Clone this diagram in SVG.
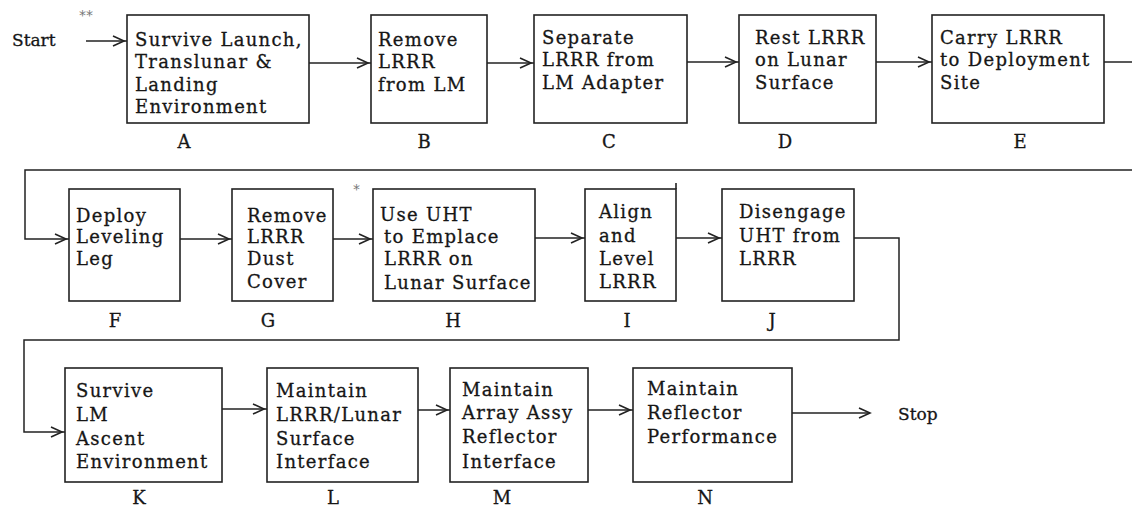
<svg xmlns="http://www.w3.org/2000/svg" width="1132" height="508" viewBox="0 0 1132 508">
<style>
.box{fill:none;stroke:#222;stroke-width:1.6}
.t{font-family:"DejaVu Serif","Liberation Serif",serif;font-size:18px;fill:#161616;stroke:#161616;stroke-width:0.3px;letter-spacing:1.3px}
.lbl{font-family:"DejaVu Serif","Liberation Serif",serif;font-size:18px;fill:#161616;stroke:#161616;stroke-width:0.3px;text-anchor:middle}
.term{font-family:"DejaVu Serif","Liberation Serif",serif;font-size:17px;fill:#161616;stroke:#161616;stroke-width:0.3px}
.ast{font-family:"DejaVu Sans","Liberation Sans",sans-serif;font-size:14px;fill:#777}
.c{fill:none;stroke:#222;stroke-width:1.5}
.a{marker-end:url(#ah)}
</style>
<defs>
<marker id="ah" markerUnits="userSpaceOnUse" markerWidth="16" markerHeight="12" viewBox="0 0 16 12" refX="16" refY="6" orient="auto"><path d="M2,1 L13,6 L2,11" fill="none" stroke="#222" stroke-width="1.6"/></marker>
<marker id="ahEnd" markerUnits="userSpaceOnUse" markerWidth="16" markerHeight="12" viewBox="0 0 16 12" refX="13" refY="6" orient="auto"><path d="M2,1 L13,6 L2,11" fill="none" stroke="#222" stroke-width="1.6"/></marker>
</defs>
<rect x="0" y="0" width="1132" height="508" fill="#fff"/>

<g id="start"><text class="term" x="12" y="46">Start</text><text class="ast" x="79" y="20">**</text></g>
<g id="stop"><text class="term" x="898" y="420">Stop</text></g>

<g id="connectors">
<path class="c a" d="M86,41 H127"/>
<path class="c a" d="M309,63 H371"/>
<path class="c a" d="M487,63 H534"/>
<path class="c a" d="M687,62 H739"/>
<path class="c a" d="M876,62 H932"/>
<path class="c" d="M1104,62 H1132"/>
<path class="c a" d="M1132,170 H25 V239 H69"/>
<path class="c a" d="M180,239 H232"/>
<path class="c a" d="M333,239 H373"/>
<path class="c a" d="M535,238 H585"/>
<path class="c a" d="M676,238 H722"/>
<path class="c a" d="M854,238 H899 V340 H24 V432 H65"/>
<path class="c a" d="M222,409 H267"/>
<path class="c a" d="M418,410 H450"/>
<path class="c a" d="M588,410 H633"/>
<path class="c" style="marker-end:url(#ahEnd)" d="M792,413 H870"/>
</g>

<g id="A"><rect class="box" x="127" y="15" width="182" height="108"/>
<text class="t" x="135" y="46">Survive Launch,</text><text class="t" x="135" y="68">Translunar &amp;</text><text class="t" x="135" y="91">Landing</text><text class="t" x="135" y="113">Environment</text>
<text class="lbl" x="184" y="148">A</text></g>

<g id="B"><rect class="box" x="371" y="15" width="116" height="108"/>
<text class="t" x="378" y="46">Remove</text><text class="t" x="378" y="68">LRRR</text><text class="t" x="378" y="91">from LM</text>
<text class="lbl" x="424" y="148">B</text></g>

<g id="C"><rect class="box" x="534" y="15" width="153" height="108"/>
<text class="t" x="542" y="44">Separate</text><text class="t" x="542" y="66">LRRR from</text><text class="t" x="542" y="89">LM Adapter</text>
<text class="lbl" x="609" y="148">C</text></g>

<g id="D"><rect class="box" x="739" y="15" width="137" height="108"/>
<text class="t" x="755" y="44">Rest LRRR</text><text class="t" x="755" y="66">on Lunar</text><text class="t" x="755" y="89">Surface</text>
<text class="lbl" x="785" y="148">D</text></g>

<g id="E"><rect class="box" x="932" y="15" width="172" height="108"/>
<text class="t" x="940" y="44">Carry LRRR</text><text class="t" x="940" y="66">to Deployment</text><text class="t" x="940" y="89">Site</text>
<text class="lbl" x="1020" y="148">E</text></g>

<g id="F"><rect class="box" x="69" y="189" width="111" height="112"/>
<text class="t" x="76" y="222">Deploy</text><text class="t" x="76" y="243">Leveling</text><text class="t" x="76" y="265">Leg</text>
<text class="lbl" x="115" y="327">F</text></g>

<g id="G"><rect class="box" x="232" y="189" width="101" height="112"/>
<text class="t" x="247" y="222">Remove</text><text class="t" x="247" y="243">LRRR</text><text class="t" x="247" y="265">Dust</text><text class="t" x="247" y="288">Cover</text>
<text class="lbl" x="268" y="327">G</text></g>

<g id="H"><rect class="box" x="373" y="189" width="162" height="112"/>
<text class="ast" x="353" y="194">*</text>
<text class="t" x="380" y="221">Use UHT</text><text class="t" x="384" y="243">to Emplace</text><text class="t" x="384" y="265">LRRR on</text><text class="t" x="384" y="289">Lunar Surface</text>
<text class="lbl" x="453" y="327">H</text></g>

<g id="I"><rect class="box" x="585" y="189" width="91" height="112"/><path class="box" d="M676,183 V189"/>
<text class="t" x="599" y="218">Align</text><text class="t" x="599" y="242">and</text><text class="t" x="599" y="265">Level</text><text class="t" x="599" y="288">LRRR</text>
<text class="lbl" x="627" y="327">I</text></g>

<g id="J"><rect class="box" x="722" y="189" width="132" height="112"/>
<text class="t" x="739" y="218">Disengage</text><text class="t" x="739" y="242">UHT from</text><text class="t" x="739" y="265">LRRR</text>
<text class="lbl" x="772" y="327">J</text></g>

<g id="K"><rect class="box" x="65" y="368" width="157" height="114"/>
<text class="t" x="76" y="397">Survive</text><text class="t" x="76" y="421">LM</text><text class="t" x="76" y="445">Ascent</text><text class="t" x="76" y="468">Environment</text>
<text class="lbl" x="139" y="504">K</text></g>

<g id="L"><rect class="box" x="267" y="368" width="151" height="114"/>
<text class="t" x="276" y="397">Maintain</text><text class="t" x="276" y="421">LRRR/Lunar</text><text class="t" x="276" y="445">Surface</text><text class="t" x="276" y="468">Interface</text>
<text class="lbl" x="333" y="504">L</text></g>

<g id="M"><rect class="box" x="450" y="368" width="138" height="114"/>
<text class="t" x="462" y="396">Maintain</text><text class="t" x="462" y="419">Array Assy</text><text class="t" x="462" y="443">Reflector</text><text class="t" x="462" y="468">Interface</text>
<text class="lbl" x="502" y="504">M</text></g>

<g id="N"><rect class="box" x="633" y="368" width="159" height="114"/>
<text class="t" x="647" y="395">Maintain</text><text class="t" x="647" y="419">Reflector</text><text class="t" x="647" y="443">Performance</text>
<text class="lbl" x="705" y="504">N</text></g>
</svg>
